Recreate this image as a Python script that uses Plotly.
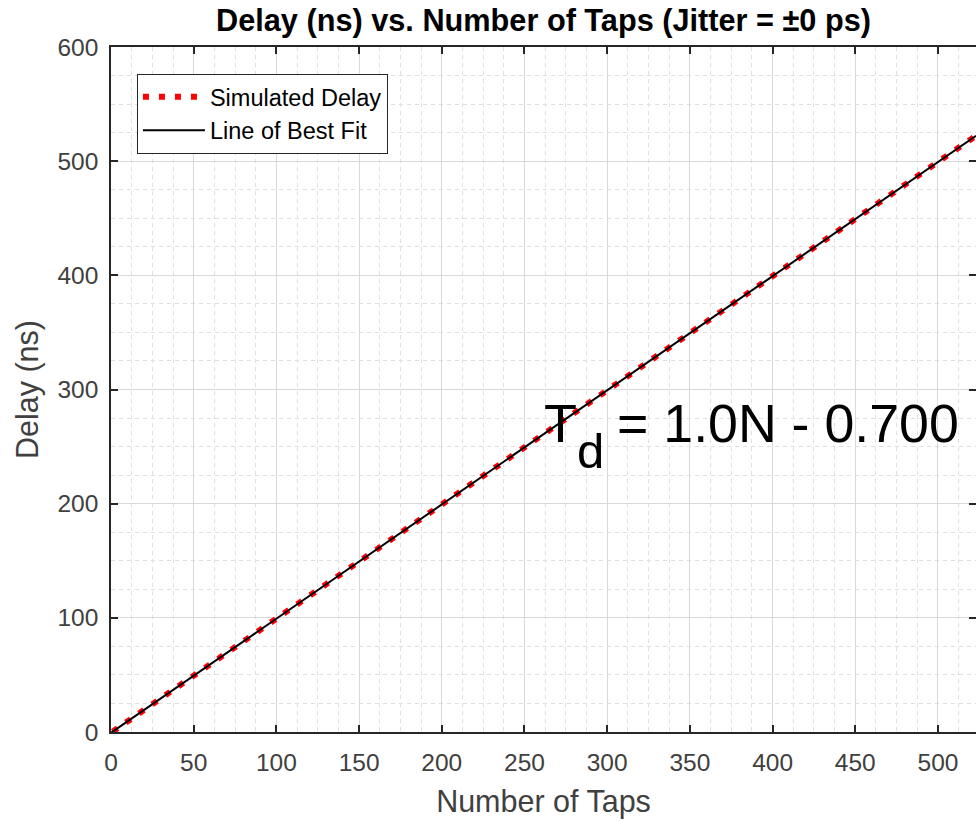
import plotly.graph_objects as go

# Data
taps = [1, 25, 50, 75, 100, 125, 150, 175, 200, 225, 250, 275, 300, 325, 350,
        375, 400, 425, 450, 475, 500, 523]
sim_delay = [0.3, 24.3, 49.3, 74.3, 99.3, 124.3, 149.3, 174.3, 199.3, 224.3, 249.3,
             274.3, 299.3, 324.3, 349.3, 374.3, 399.3, 424.3, 449.3, 474.3, 499.3, 522.3]
fit_taps = [0, 523]
fit_delay = [-0.7, 522.3]

x_ticks = [0, 50, 100, 150, 200, 250, 300, 350, 400, 450, 500]
y_ticks = [0, 100, 200, 300, 400, 500, 600]

FONT = "Liberation Sans, Arial, Helvetica, sans-serif"
AX = "#262626"
TICKC = "#404040"

fig = go.Figure()
fig.add_trace(go.Scatter(
    x=taps, y=sim_delay, mode="lines", name="Simulated Delay",
    line=dict(color="#ff0000", width=6, dash="6px,10px"),
))
fig.add_trace(go.Scatter(
    x=fit_taps, y=fit_delay, mode="lines", name="Line of Best Fit",
    line=dict(color="#000000", width=2),
))

grid_major = "#d9d9d9"
grid_minor = "#e0e0e0"

fig.update_xaxes(
    range=[0, 523], tickvals=x_ticks, ticks="inside", ticklen=7, tickwidth=1.5,
    tickcolor=AX, showline=True, linecolor=AX, linewidth=1.5, mirror="ticks",
    showgrid=True, gridcolor=grid_major, gridwidth=1, zeroline=False,
    minor=dict(dtick=12.5, tick0=0, showgrid=True, gridcolor=grid_minor,
               griddash="4px,4px", ticks=""),
    tickfont=dict(family=FONT, size=24.5, color=TICKC),
    ticklabelstandoff=8,
    title=dict(text="Number of Taps", font=dict(family=FONT, size=30.5, color=TICKC),
               standoff=15),
)
fig.update_yaxes(
    range=[0, 600], tickvals=y_ticks, ticks="inside", ticklen=7, tickwidth=1.5,
    tickcolor=AX, showline=True, linecolor=AX, linewidth=1.5, mirror="ticks",
    showgrid=True, gridcolor=grid_major, gridwidth=1, zeroline=False,
    minor=dict(dtick=25, tick0=0, showgrid=True, gridcolor=grid_minor,
               griddash="4px,4px", ticks=""),
    tickfont=dict(family=FONT, size=24.5, color=TICKC),
    ticklabelstandoff=6,
    title=dict(text="Delay (ns)", font=dict(family=FONT, size=30.5, color=TICKC),
               standoff=10),
)

# Fit equation text: "T", subscript "d", and the rest
fig.add_annotation(
    x=0.4994, y=0.451, xref="paper", yref="paper", xanchor="left", yanchor="middle",
    text="T", showarrow=False, borderpad=0,
    font=dict(family=FONT, size=54, color="#000000"),
)
fig.add_annotation(
    x=0.5376, y=0.4107, xref="paper", yref="paper", xanchor="left", yanchor="middle",
    text="d", showarrow=False, borderpad=0,
    font=dict(family=FONT, size=49, color="#000000"),
)
fig.add_annotation(
    x=0.5838, y=0.451, xref="paper", yref="paper", xanchor="left", yanchor="middle",
    text="= 1.0N - 0.700", showarrow=False, borderpad=0,
    font=dict(family=FONT, size=53.7, color="#000000"),
)

fig.update_layout(
    width=976, height=821,
    margin=dict(l=111, r=0, t=47, b=89, autoexpand=False),
    paper_bgcolor="white", plot_bgcolor="white",
    title=dict(text="<b>Delay (ns) vs. Number of Taps (Jitter = ±0 ps)</b>",
               x=0.5, xref="paper", xanchor="center",
               y=1 - 20 / 821, yref="container", yanchor="middle",
               font=dict(family=FONT, size=30.7, color="#000000")),
    showlegend=True,
    legend=dict(x=0.030, y=0.9606, xanchor="left", yanchor="top",
                bgcolor="white", bordercolor="#262626", borderwidth=1,
                font=dict(family=FONT, size=23.5, color="#000000"),
                itemwidth=62, tracegroupgap=0),
)

fig.write_html(
    "out.html",
    config={"displayModeBar": False},
    post_script="document.body.style.margin='0';document.body.style.overflow='hidden';",
)
